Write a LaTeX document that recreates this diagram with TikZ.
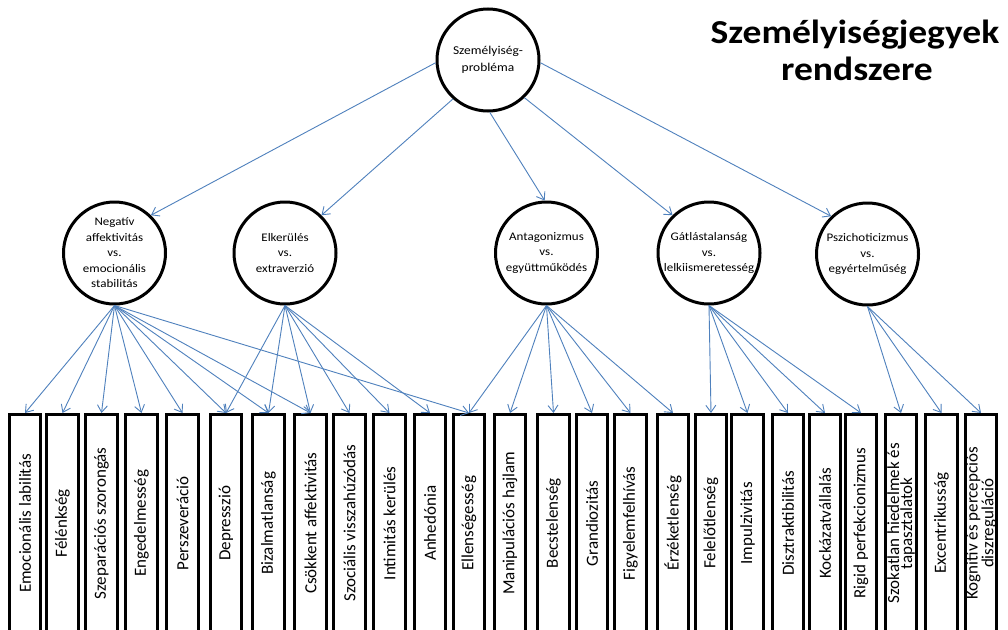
\documentclass[tikz,border=0pt]{standalone}
\usepackage{fontspec}
\setmainfont{Carlito}
\newfontfamily\widefont[FakeStretch=1.12]{Carlito}
\usetikzlibrary{arrows.meta}
\definecolor{linkblue}{RGB}{79,129,189}
\tikzset{
  trait/.style={circle, draw=black, line width=3pt, minimum size=102pt, inner sep=0pt,
    align=center, font=\widefont\fontsize{11.6}{15.5}\selectfont},
  facet/.style={rectangle, draw=black, line width=2.6pt, rotate=90, anchor=east,
    minimum width=218pt, minimum height=31.5pt, inner sep=0pt, align=center,
    font=\fontsize{17}{11.5}\selectfont},
  link/.style={draw=linkblue, line width=0.9pt, -{Straight Barb[length=7pt,width=10pt]}},
  titletext/.style={anchor=base, inner sep=0pt, font=\widefont\bfseries\fontsize{33.5}{37}\selectfont}
}
\begin{document}
\begin{tikzpicture}[x=1pt,y=-1pt]
\useasboundingbox (0,0) rectangle (1008,629);
\clip (0,0) rectangle (1008,629);
\fill[white] (0,0) rectangle (1008,629);

\node[titletext] (title1) at (855,43) {Személyiségjegyek};
\node[titletext] (title2) at (857,80) {rendszere};

\node[trait, font=\widefont\fontsize{12}{17}\selectfont] (top) at (488,60) {Személyiség-\\probléma};
\node[trait] (c1) at (114.5,253) {Negatív\\affektivitás\\vs.\\emocionális\\stabilitás};
\node[trait] (c2) at (285,253) {Elkerülés\\vs.\\extraverzió};
\node[trait] (c3) at (546.5,253) {Antagonizmus\\vs.\\együttműködés};
\node[trait] (c4) at (709,253) {Gátlástalanság\\vs.\\lelkiismeretesség};
\node[trait] (c5) at (867.5,254) {Pszichoticizmus\\vs.\\egyértelműség};

\node[facet] (f1) at (25,413) {Emocionális labilitás};
\node[facet] (f2) at (62.5,413) {Félénkség};
\node[facet] (f3) at (101.5,413) {Szeparációs szorongás};
\node[facet] (f4) at (141.5,413) {Engedelmesség};
\node[facet] (f5) at (182.5,413) {Perszeveráció};
\node[facet] (f6) at (226,413) {Depresszió};
\node[facet] (f7) at (268.5,413) {Bizalmatlanság};
\node[facet] (f8) at (310.5,413) {Csökkent affektivitás};
\node[facet] (f9) at (349.5,413) {Szociális visszahúzódás};
\node[facet] (f10) at (389.5,413) {Intimitás kerülés};
\node[facet] (f11) at (430,413) {Anhedónia};
\node[facet] (f12) at (469,413) {Ellenségesség};
\node[facet] (f13) at (510,413) {Manipulációs hajlam};
\node[facet] (f14) at (553.5,413) {Becstelenség};
\node[facet] (f15) at (592,413) {Grandiozitás};
\node[facet] (f16) at (630.5,413) {Figyelemfelhívás};
\node[facet] (f17) at (673,413) {Érzéketlenség};
\node[facet] (f18) at (711,413) {Felelőtlenség};
\node[facet] (f19) at (747.5,413) {Impulzivitás};
\node[facet] (f20) at (788,413) {Disztraktibilitás};
\node[facet] (f21) at (825,413) {Kockázatvállalás};
\node[facet] (f22) at (861,413) {Rigid perfekcionizmus};
\node[facet] (f23) at (901,413) {Szokatlan hiedelmek és\\tapasztalatok};
\node[facet] (f24) at (941.5,413) {Excentrikusság};
\node[facet] (f25) at (981,413) {Kognitív és percepciós\\diszreguláció};

\draw[link] (top.183) -- (c1.46);
\draw[link] (top.228) -- (c2.46);
\draw[link] (top.272) -- (c3.92);
\draw[link] (top.314) -- (c4.134);
\draw[link] (top.357) -- (c5.134);

\foreach \f in {f1,f2,f3,f4,f5,f6,f7,f8,f12} \draw[link] (c1.south) -- (\f.east);
\foreach \f in {f6,f7,f8,f9,f10,f11} \draw[link] (c2.south) -- (\f.east);
\foreach \f in {f12,f13,f14,f15,f16,f17} \draw[link] (c3.south) -- (\f.east);
\foreach \f in {f18,f19,f20,f21,f22} \draw[link] (c4.south) -- (\f.east);
\foreach \f in {f23,f24,f25} \draw[link] (c5.south) -- (\f.east);
\end{tikzpicture}
\end{document}
